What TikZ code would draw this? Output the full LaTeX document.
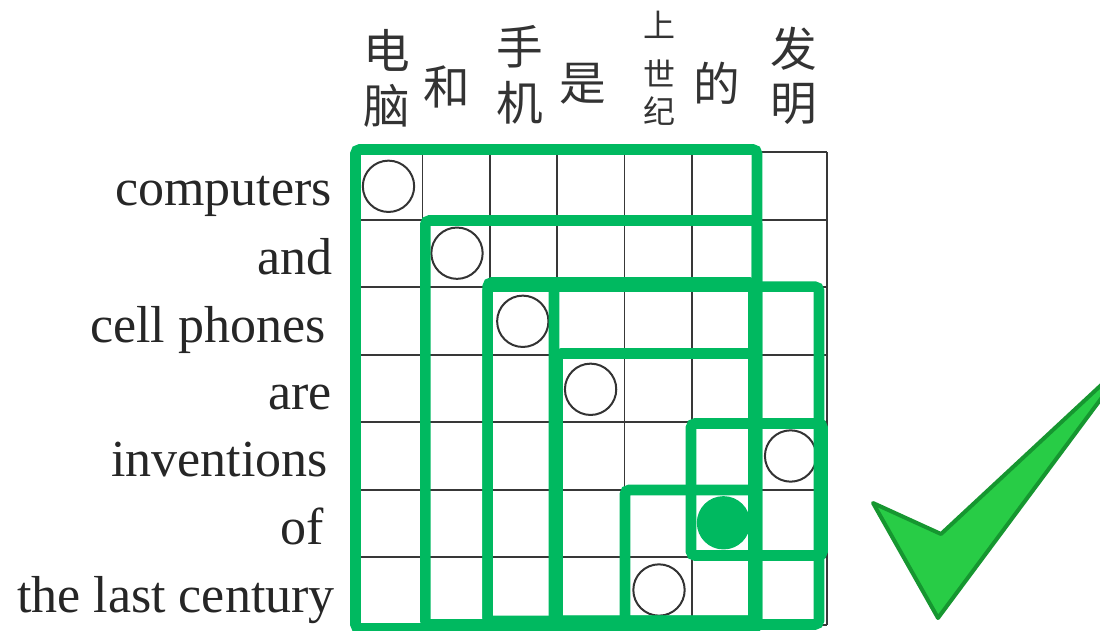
\documentclass[tikz,border=0pt]{standalone}
\usepackage{fontspec}
\setmainfont{Liberation Serif}
\newfontfamily\cjk{Noto Sans CJK SC}
\definecolor{boxgreen}{RGB}{0,185,96}
\definecolor{checkfill}{RGB}{40,204,70}
\definecolor{checkline}{RGB}{22,150,48}
\begin{document}
\begin{tikzpicture}[x=0.75pt,y=-0.75pt,
  en/.style={anchor=base east, inner sep=0pt, font=\fontsize{39}{39}\selectfont, text=black!85},
  zh/.style={inner sep=0pt, font=\cjk\fontsize{35}{35}\selectfont, text=black!80},
  zhs/.style={inner sep=0pt, font=\cjk\fontsize{24}{24}\selectfont, text=black!80},
  tok/.style={circle, draw=black!80, line width=1.5pt, minimum size=38.5pt, inner sep=0pt},
  gridline/.style={draw=black!78, line width=1.3pt},
  span/.style={draw=boxgreen, line width=7.9pt, rounded corners=3pt}]
\useasboundingbox (0,0) rectangle (1100,631);
% grid
\foreach \i in {0,...,7}
  \draw[gridline] ({355+67.4*\i},152.3) -- ({355+67.4*\i},624.8);
\foreach \j in {0,...,7}
  \draw[gridline] (355,{152.3+67.5*\j}) -- (826.8,{152.3+67.5*\j});
% English words
\node[en] (w1) at (332,206) {computers};
\node[en] (w2) at (333,274) {and};
\node[en] (w3) at (326,342) {cell phones};
\node[en] (w4) at (332,409) {are};
\node[en] (w5) at (328,476) {inventions};
\node[en] (w6) at (324,544) {of};
\node[en] (w7) at (335,612) {the last century};
% Chinese words
\node[zh] (z1a) at (387,50.5) {电};
\node[zh] (z1b) at (387,105.5) {脑};
\node[zh] (z2) at (446.5,86.5) {和};
\node[zh] (z3a) at (520,47) {手};
\node[zh] (z3b) at (520,102.5) {机};
\node[zh] (z4) at (582.5,83.5) {是};
\node[zhs] (z5a) at (659,25) {上};
\node[zhs] (z5b) at (659,73.5) {世};
\node[zhs] (z5c) at (659,111) {纪};
\node[zh] (z6) at (716.5,83.5) {的};
\node[zh] (z7a) at (794,48.5) {发};
\node[zh] (z7b) at (794,104) {明};
% alignment circles
\node[tok] (c1) at (388.5,186.3) {};
\node[tok] (c2) at (457,253.2) {};
\node[tok] (c3) at (522.8,321.3) {};
\node[tok] (c4) at (590.6,389.3) {};
\node[tok] (c5) at (790.6,456) {};
\node[tok] (c7) at (659,590) {};
% span boxes
\draw[span] (355.5,149.5) rectangle (757,628.5);
\draw[span] (425.3,220.5) rectangle (757,624.5);
\draw[span] (487.7,282.5) rectangle (753.5,621);
\draw[span] (487.7,286.7) rectangle (819,624.5);
\draw[span] (554,286.7) rectangle (753.5,621);
\draw[span] (557.5,353.5) rectangle (753.5,621);
\draw[span] (625,490) rectangle (753.5,621);
\draw[span] (691,423.5) rectangle (822.5,555.5);
\node[tok, draw=boxgreen, fill=boxgreen] (c6) at (723.5,522.8) {};
% check mark
\draw[fill=checkfill, draw=checkline, line width=3pt, line join=round]
  (873,503) -- (941,534) -- (1112,375) -- (1112,384) -- (938,618) -- cycle;
\end{tikzpicture}
\end{document}
